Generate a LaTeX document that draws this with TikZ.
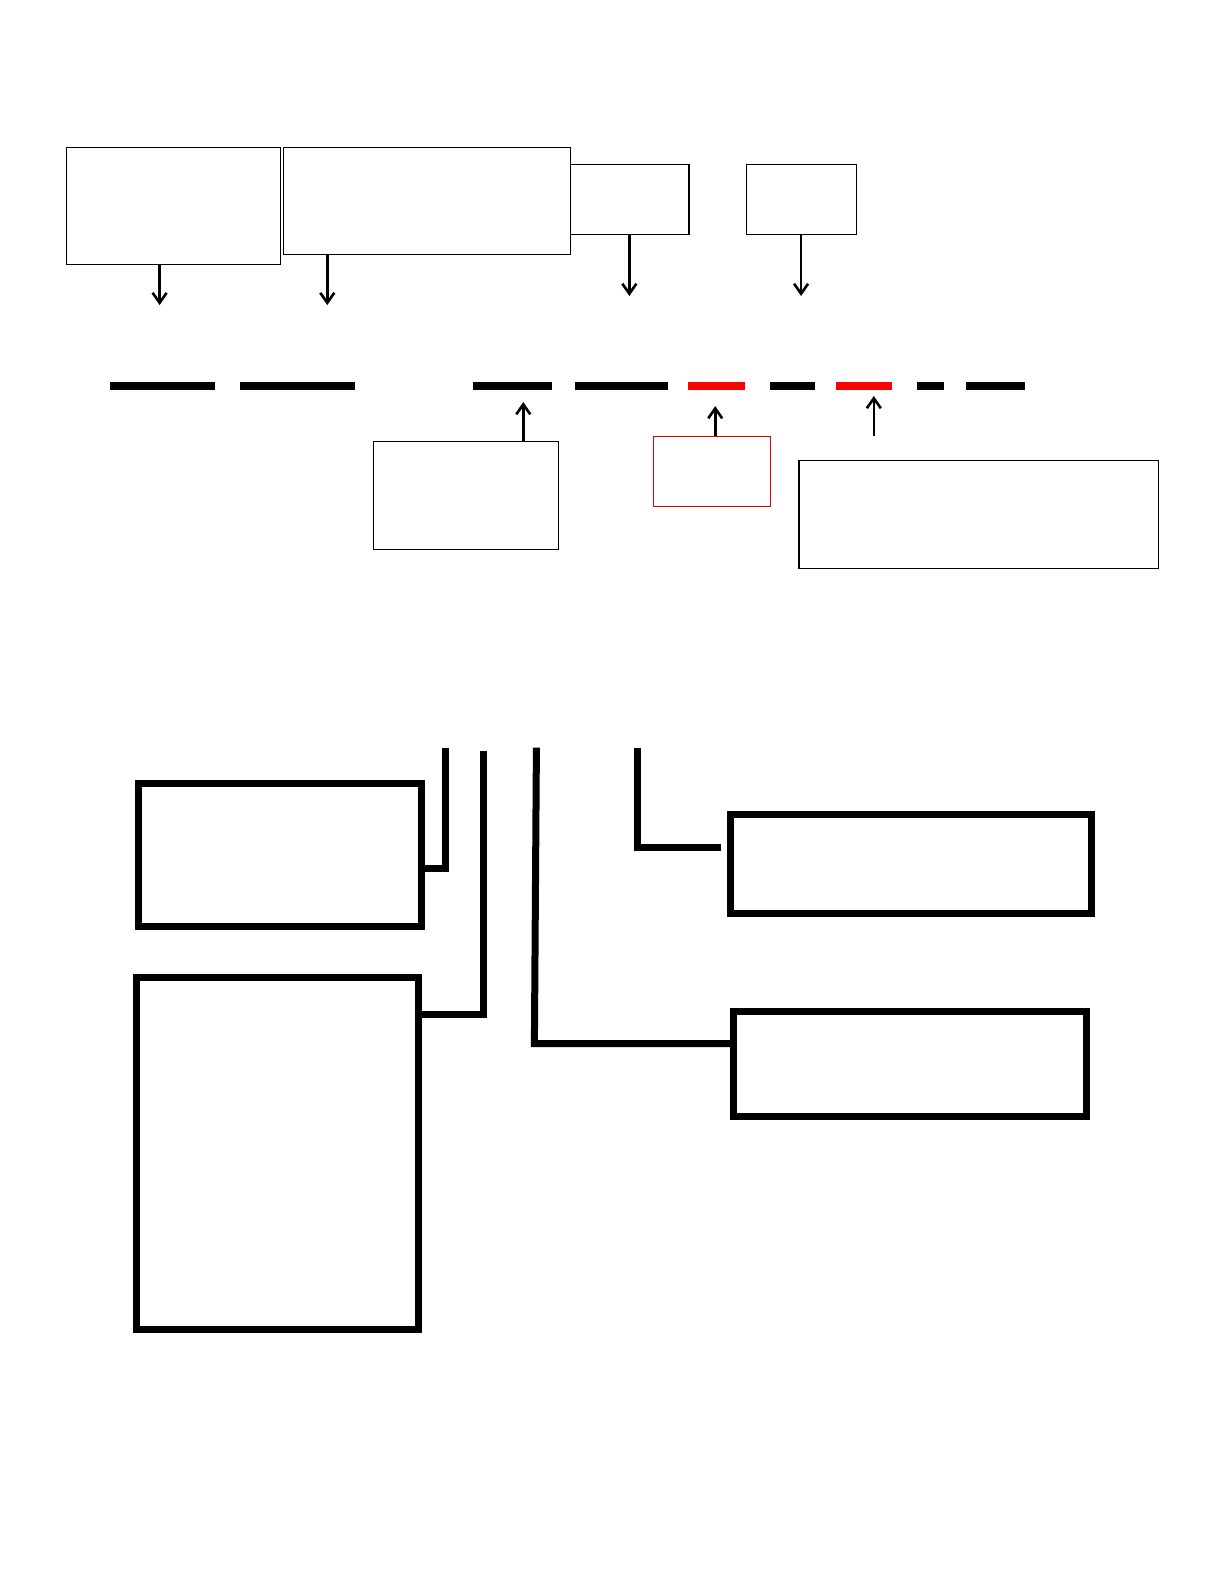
\documentclass[tikz,border=0pt]{standalone}
\usetikzlibrary{arrows.meta}

\tikzset{
  thinbox/.style={draw,line width=0.6pt,inner sep=0pt,rectangle},
  thickbox/.style={draw,line width=3.5pt,inner sep=0pt,rectangle},
  pointer/.style={->,line width=1.3pt},
  dashline/.style={line width=4pt},
  link/.style={line width=3.5pt,miter limit=10}
}

\begin{document}
\begin{tikzpicture}[x=0.505pt,y=-0.505pt,>={Straight Barb[length=5pt,width=7pt]}]
    \useasboundingbox (0,0) rectangle (1212,1568);

    % top boxes
    \node[thinbox,minimum width=107.06pt,minimum height=58.58pt] (A) at (172,204) {};
    \node[thinbox,minimum width=143.42pt,minimum height=53.53pt] (B) at (423,199) {};
    \node[thinbox,minimum width=59.09pt,minimum height=34.85pt] (C) at (623.5,197.5) {};
    \node[thinbox,minimum width=55.05pt,minimum height=34.85pt] (D) at (793.5,197.5) {};

    \coordinate (a1) at (158,302);
    \coordinate (b1) at (324,302);
    \coordinate (c1) at (623,293);
    \coordinate (d1) at (793,293);
    \draw[pointer] (A.south -| a1) -- (a1);
    \draw[pointer] (B.south -| b1) -- (b1);
    \draw[pointer] (C.south -| c1) -- (c1);
    \draw[pointer] (D.south -| d1) -- (d1);

    % the line of dashes
    \foreach \xa/\xb/\col in {109/213/black,238/351/black,468/546/black,569/661/black,
                              681/737/red,762/807/black,828/883/red,908/934/black,956/1015/black}
        \draw[dashline,\col] (\xa,382) -- (\xb,382);

    % boxes below the dashes
    \node[thinbox,minimum width=92.42pt,minimum height=54.04pt] (E) at (461.5,490.5) {};
    \node[thinbox,draw=red!85!black,minimum width=58.58pt,minimum height=34.85pt] (F) at (705,466.5) {};
    \node[thinbox,minimum width=179.78pt,minimum height=54.04pt] (G) at (969,509.5) {};

    \coordinate (e1) at (518,398);
    \coordinate (f1) at (708,402);
    \coordinate (g0) at (865,432);
    \coordinate (g1) at (865,392);
    \draw[pointer] (E.north -| e1) -- (e1);
    \draw[pointer] (F.north -| f1) -- (f1);
    \draw[pointer] (g0) -- (g1);

    % bottom boxes
    \node[thickbox,minimum width=141.4pt,minimum height=71.21pt] (H) at (277,846.5) {};
    \node[thickbox,minimum width=140.9pt,minimum height=175.74pt] (I) at (274.5,1142) {};
    \node[thickbox,minimum width=180.29pt,minimum height=49.49pt] (J) at (901.5,855) {};
    \node[thickbox,minimum width=176.75pt,minimum height=52.52pt] (K) at (901,1053) {};

    \coordinate (h1) at (441,740);
    \coordinate (h2) at (441,860);
    \coordinate (i1) at (479,743);
    \coordinate (i2) at (479,1004);
    \coordinate (k1) at (531,740);
    \coordinate (k2) at (529,1033);
    \coordinate (j1) at (631,740);
    \coordinate (j2) at (631,839);
    \draw[link] (h1) -- (h2) -- (h2 -| H.east);
    \draw[link] (i1) -- (i2) -- (i2 -| I.east);
    \draw[link] (k1) -- (k2) -- (k2 -| K.west);
    \draw[link] (j1) -- (j2) -- ([xshift=-3pt]j2 -| J.west);
\end{tikzpicture}
\end{document}
